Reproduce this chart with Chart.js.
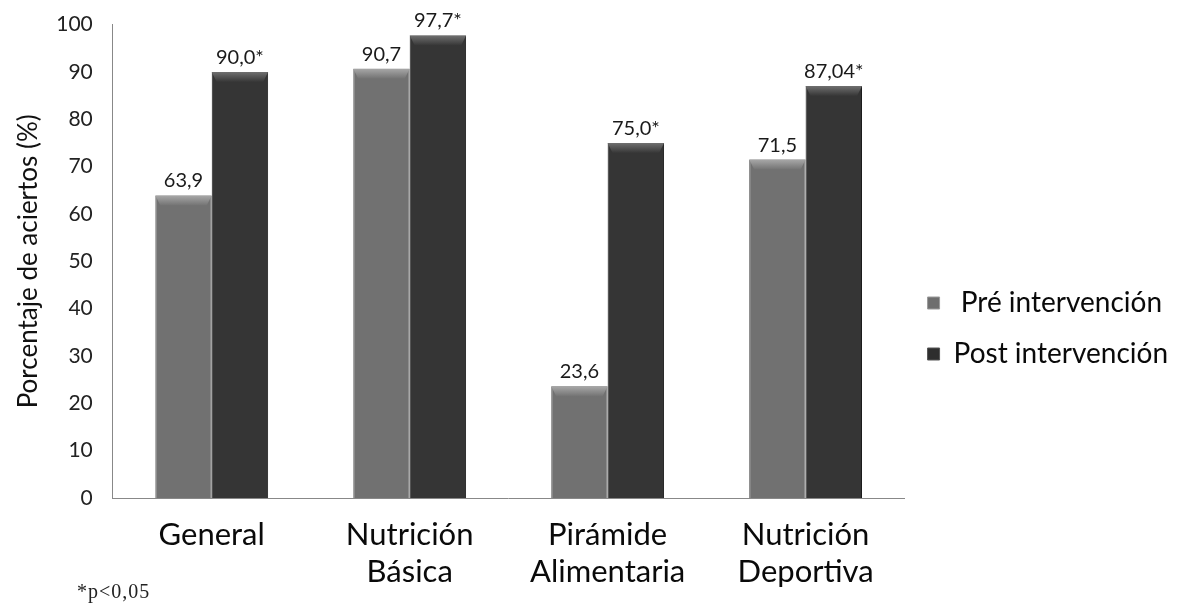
<!DOCTYPE html>
<html>
<head>
<meta charset="utf-8">
<script src="https://cdn.jsdelivr.net/npm/chart.js@4"></script>
<style>
  html, body { margin: 0; padding: 0; background: #fff; }
  #wrap { position: relative; width: 1192px; height: 603px; }
  #note { position: absolute; left: 77px; top: 580px; font: 20px "Liberation Serif", serif; letter-spacing: 1px; color: #222; }
</style>
</head>
<body>
<div id="wrap">
  <canvas id="c" width="1192" height="603"></canvas>
  <div id="note">*p&lt;0,05</div>
</div>
<script>
const categories = [["General"], ["Nutrición", "Básica"], ["Pirámide", "Alimentaria"], ["Nutrición", "Deportiva"]];
const seriesNames = [" Pré intervención", "Post intervención"];
const preValues = [63.9, 90.7, 23.6, 71.5];
const postValues = [90.0, 97.7, 75.0, 87.04];
const preLabels = ["63,9", "90,7", "23,6", "71,5"];
const postLabels = ["90,0*", "97,7*", "75,0*", "87,04*"];
const yTicks = [0, 10, 20, 30, 40, 50, 60, 70, 80, 90, 100];

const FONT = 'Lato, "Open Sans", sans-serif';

// Value labels above each bar
const valueLabels = {
  id: 'valueLabels',
  afterDatasetsDraw(chart) {
    const ctx = chart.ctx;
    ctx.save();
    ctx.font = '20px ' + FONT;
    ctx.fillStyle = '#1a1a1a';
    ctx.textAlign = 'center';
    ctx.textBaseline = 'alphabetic';
    chart.data.datasets.forEach((ds, di) => {
      chart.getDatasetMeta(di).data.forEach((bar, i) => {
        ctx.fillText(ds.valueText[i], bar.x, bar.y - 8);
      });
    });
    ctx.restore();
  }
};

// Bevelled top edge on each bar
const bevel = {
  id: 'bevel',
  afterDatasetsDraw(chart) {
    const ctx = chart.ctx;
    ctx.save();
    chart.data.datasets.forEach((ds, di) => {
      chart.getDatasetMeta(di).data.forEach((bar) => {
        const l = bar.x - bar.width / 2, r = bar.x + bar.width / 2, t = bar.y, h = 10;
        const g = ctx.createLinearGradient(0, t, 0, t + h);
        g.addColorStop(0, ds.bevelTop);
        g.addColorStop(1, ds.bevelBottom);
        ctx.fillStyle = g;
        ctx.beginPath();
        ctx.moveTo(l, t);
        ctx.lineTo(r, t);
        ctx.lineTo(r - 5, t + h);
        ctx.lineTo(l + 5, t + h);
        ctx.closePath();
        ctx.fill();
      });
    });
    ctx.restore();
  }
};

function sideGradient(ctx, base, edge) {
  const chart = ctx.chart;
  const el = ctx.element;
  if (!el || !chart.chartArea || el.width === undefined) return base;
  const l = el.x - el.width / 2, r = el.x + el.width / 2;
  const g = chart.ctx.createLinearGradient(l, 0, r, 0);
  g.addColorStop(0, edge);
  g.addColorStop(0.1, base);
  g.addColorStop(0.9, base);
  g.addColorStop(1, edge);
  return g;
}

new Chart(document.getElementById('c'), {
  type: 'bar',
  data: {
    labels: categories,
    datasets: [
      {
        label: seriesNames[0],
        data: preValues,
        valueText: preLabels,
        backgroundColor: (c) => sideGradient(c, '#717171', '#5a5a5a'),
        bevelTop: '#a8a8a8', bevelBottom: '#737373',
        borderColor: '#5c5c5c', borderWidth: 1,
        categoryPercentage: 0.57, barPercentage: 1.0
      },
      {
        label: seriesNames[1],
        data: postValues,
        valueText: postLabels,
        backgroundColor: (c) => sideGradient(c, '#353535', '#222222'),
        bevelTop: '#707070', bevelBottom: '#363636',
        borderColor: '#1c1c1c', borderWidth: 1,
        categoryPercentage: 0.57, barPercentage: 1.0
      }
    ]
  },
  options: {
    responsive: false,
    animation: false,
    layout: { padding: { top: 18, right: 14, left: 13, bottom: 8 } },
    plugins: {
      tooltip: { enabled: false },
      legend: {
        position: 'right',
        align: 'center',
        title: { display: true, text: ' ', padding: 19, font: { size: 5 } },
        labels: {
          boxWidth: 12, boxHeight: 12, padding: 23,
          color: '#0a0a0a',
          font: { family: FONT, size: 28 },
          generateLabels(chart) {
            return chart.data.datasets.map((ds, i) => ({
              text: ds.label,
              fillStyle: i === 0 ? '#6e6e6e' : '#2e2e2e',
              strokeStyle: i === 0 ? '#9a9a9a' : '#555',
              fontColor: '#0a0a0a',
              lineWidth: 1,
              hidden: false,
              datasetIndex: i
            }));
          }
        }
      }
    },
    scales: {
      x: {
        afterFit(scale) { scale.height = 97; },
        grid: { display: false, drawTicks: false },
        border: { color: '#888', width: 1 },
        ticks: {
          color: '#0a0a0a', padding: 18,
          font: { family: FONT, size: 31, lineHeight: 1.2 }
        }
      },
      y: {
        min: 0, max: 100,
        afterBuildTicks(axis) { axis.ticks = yTicks.map(v => ({ value: v })); },
        grid: { display: false, drawOnChartArea: false, drawTicks: true, tickLength: 8, tickColor: '#888' },
        border: { color: '#888', width: 1 },
        ticks: {
          color: '#222', padding: 12,
          font: { family: FONT, size: 21 }
        },
        title: {
          display: true,
          text: 'Porcentaje de aciertos (%)',
          color: '#111',
          padding: { top: 0, bottom: 0 },
          font: { family: FONT, size: 26 }
        }
      }
    }
  },
  plugins: [valueLabels, bevel]
});
</script>
</body>
</html>
